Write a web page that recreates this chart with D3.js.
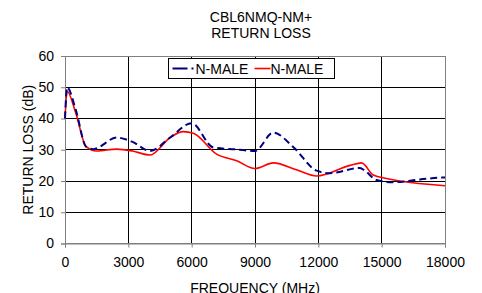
<!DOCTYPE html>
<html>
<head>
<meta charset="utf-8">
<script src="https://cdn.jsdelivr.net/npm/d3@7"></script>
<style>
  body { margin: 0; background: #fff; }
  text { font-family: "Liberation Sans", Arial, sans-serif; fill: #000; }
</style>
</head>
<body>
<div id="chart"></div>
<script>
// Data
var freqBlue = [0, 100, 500, 1000, 1340, 2450, 3200, 4030, 5000, 6000, 7030, 8130, 9000, 9870, 10820, 11920, 12550, 13970, 14210, 14760, 15550, 16820, 17930, 18000];
var lossBlue = [40, 50, 43, 31, 30.2, 33.9, 32.5, 29.6, 34, 38.5, 30.7, 30.1, 29.6, 35.5, 30.8, 23.3, 22.5, 24.2, 23.3, 20.3, 19.6, 20.5, 21.1, 21.1];
var freqRed = [0, 100, 500, 1000, 1500, 2450, 3200, 4030, 5000, 5600, 6080, 7180, 8130, 9000, 9870, 11000, 11920, 13500, 14050, 14600, 15240, 15870, 18000];
var lossRed = [40, 48.7, 42, 31, 29.6, 30.2, 29.6, 28.3, 34, 35.8, 35.3, 28.6, 26.5, 24.0, 25.8, 23.5, 21.6, 25, 25.8, 21.9, 20.8, 20, 18.5];
var xTicks = [0, 3000, 6000, 9000, 12000, 15000, 18000];
var yTicks = [0, 10, 20, 30, 40, 50, 60];
var seriesNames = ["N-MALE", "N-MALE"];

var svgWidth = 482, svgHeight = 293;
var margin = { top: 56, right: 37, bottom: 49.5, left: 65 };
var width = svgWidth - margin.left - margin.right;
var height = svgHeight - margin.top - margin.bottom;

var svg = d3.select("#chart").append("svg")
  .attr("width", svgWidth)
  .attr("height", svgHeight);

var chartGroup = svg.append("g")
  .attr("transform", `translate(${margin.left}, ${margin.top})`);

var xScale = d3.scaleLinear().domain([0, 18000]).range([0, width]);
var yScale = d3.scaleLinear().domain([0, 60]).range([height, 0]);

// gridlines
chartGroup.append("g").selectAll("line")
  .data(yTicks.slice(1)).enter().append("line")
  .attr("x1", 0).attr("x2", width)
  .attr("y1", d => yScale(d)).attr("y2", d => yScale(d))
  .attr("stroke", "#000").attr("stroke-width", 1).attr("shape-rendering", "crispEdges");
chartGroup.append("g").selectAll("line")
  .data(xTicks.slice(1)).enter().append("line")
  .attr("y1", 0).attr("y2", height)
  .attr("x1", d => xScale(d)).attr("x2", d => xScale(d))
  .attr("stroke", "#000").attr("stroke-width", 1).attr("shape-rendering", "crispEdges");

// border
chartGroup.append("rect")
  .attr("width", width).attr("height", height)
  .attr("fill", "none").attr("stroke", "#808080").attr("shape-rendering", "crispEdges");

// axes
var xAxis = d3.axisBottom(xScale).tickValues(xTicks).tickSize(4).tickPadding(10).tickFormat(d3.format("d"));
var yAxis = d3.axisLeft(yScale).tickValues(yTicks).tickSize(4).tickPadding(7);

var gx = chartGroup.append("g")
  .attr("transform", `translate(0,${height})`)
  .call(xAxis);
var gy = chartGroup.append("g").call(yAxis);
[gx, gy].forEach(function (g) {
  g.select(".domain").attr("stroke", "#808080");
  g.selectAll(".tick line").attr("stroke", "#808080");
  g.selectAll("text").attr("font-size", "14px").attr("font-family", "Liberation Sans, Arial, sans-serif");
});

// lines
var line = d3.line()
  .x(d => xScale(d[0]))
  .y(d => yScale(d[1]))
  .curve(d3.curveMonotoneX);

chartGroup.append("path")
  .datum(d3.zip(freqRed, lossRed))
  .attr("d", line)
  .attr("fill", "none")
  .attr("stroke", "#ff0000")
  .attr("stroke-width", 1.6);

chartGroup.append("path")
  .datum(d3.zip(freqBlue, lossBlue))
  .attr("d", line)
  .attr("fill", "none")
  .attr("stroke", "#000080")
  .attr("stroke-width", 2)
  .attr("stroke-dasharray", "7,4");

// legend
var legend = svg.append("g").attr("transform", "translate(168.5,58.5)");
legend.append("rect")
  .attr("width", 166).attr("height", 20)
  .attr("fill", "#fff").attr("stroke", "#000").attr("shape-rendering", "crispEdges");
legend.append("line").attr("x1", 4).attr("x2", 25).attr("y1", 10).attr("y2", 10)
  .attr("stroke", "#000080").attr("stroke-width", 2).attr("stroke-dasharray", "15,4,2");
legend.append("text").attr("x", 27).attr("y", 15.5).attr("font-size", "14px").text(seriesNames[0]);
legend.append("line").attr("x1", 86).attr("x2", 102).attr("y1", 10).attr("y2", 10)
  .attr("stroke", "#ff0000").attr("stroke-width", 1.6);
legend.append("text").attr("x", 102).attr("y", 15.5).attr("font-size", "14px").text(seriesNames[1]);

// titles
svg.append("text").attr("x", 261).attr("y", 22).attr("text-anchor", "middle")
  .attr("font-size", "14px").text("CBL6NMQ-NM+");
svg.append("text").attr("x", 261).attr("y", 38).attr("text-anchor", "middle")
  .attr("font-size", "14px").text("RETURN LOSS");

svg.append("text")
  .attr("transform", `translate(${margin.left + width / 2},292.5)`)
  .attr("text-anchor", "middle").attr("font-size", "14px")
  .text("FREQUENCY (MHz)");

svg.append("text")
  .attr("transform", `translate(33,${margin.top + height / 2})rotate(270)`)
  .attr("text-anchor", "middle").attr("font-size", "14px")
  .text("RETURN LOSS (dB)");
</script>
</body>
</html>
